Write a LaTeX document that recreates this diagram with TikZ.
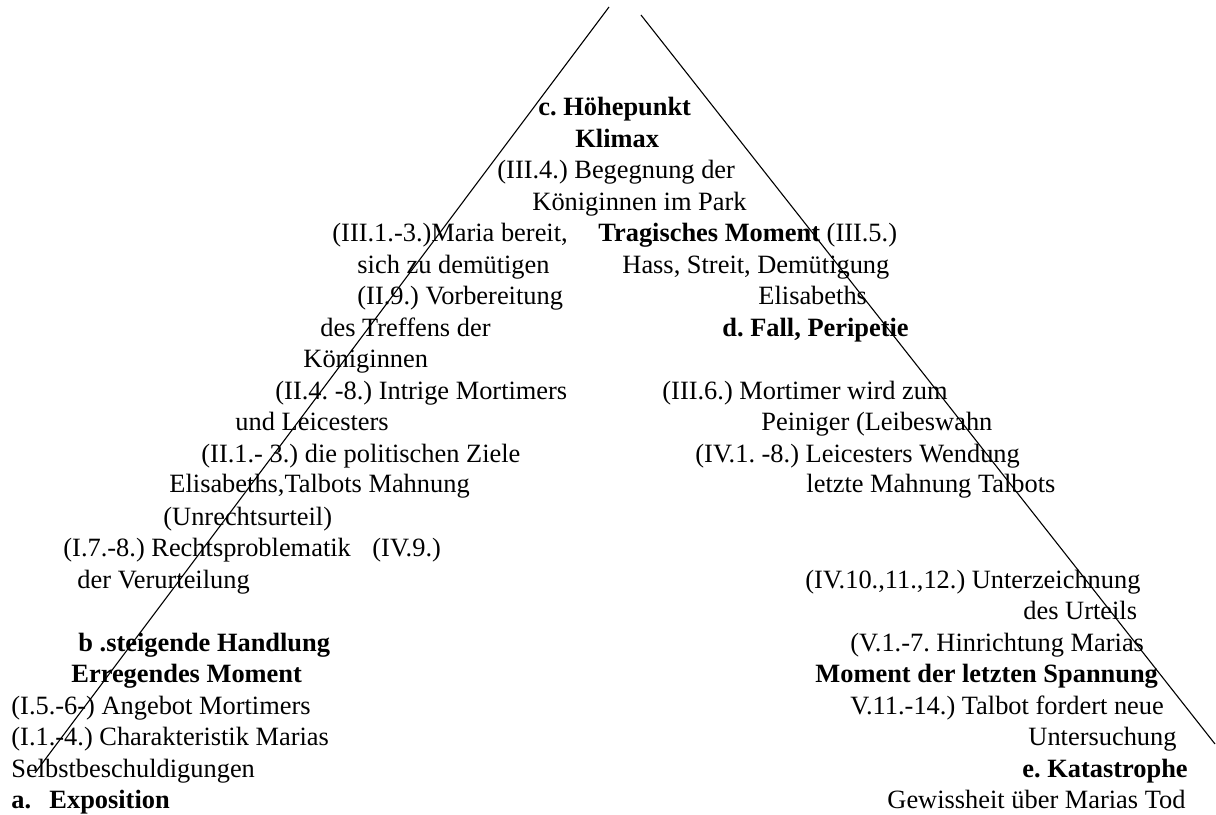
\documentclass[tikz,border=0pt]{standalone}
\usepackage{fontspec}
\setmainfont{Liberation Serif}
\begin{document}
\fontsize{12}{14}\selectfont\frenchspacing
\begin{tikzpicture}[
      x=0.4545pt, y=-0.4545pt,
      txt/.style={anchor=base west, inner sep=0pt},
      head/.style={txt, font=\bfseries},
      side/.style={line width=0.5pt},
   ]
   \useasboundingbox (0,0) rectangle (1216,815);

   % sides of the triangle
   \coordinate (topL) at (609,7);
   \coordinate (footL) at (35,773);
   \coordinate (topR) at (641,15);
   \coordinate (footR) at (1215,744);
   \draw[side] (topL) -- (footL);
   \draw[side] (topR) -- (footR);

   % c. Hoehepunkt
   \node[head] (hoehe) at (538,116) {c. Höhepunkt};
   \node[head] (klimax) at (575,147.5) {Klimax};
   \node[txt] (begegn) at (497,179) {(III.4.) Begegnung der};
   \node[txt] (park) at (532,210.5) {Königinnen im Park};

   % rising side
   \node[txt] (bereit) at (332,242) {(III.1.-3.)Maria bereit,};
   \node[txt] (demuet) at (357,273.5) {sich zu demütigen};
   \node[txt] (vorber) at (357,305) {(II.9.) Vorbereitung};
   \node[txt] (treffen) at (320,336.5) {des Treffens der};
   \node[txt] (koenig) at (303,368) {Königinnen};
   \node[txt] (intrige) at (275,399.5) {(II.4. -8.) Intrige Mortimers};
   \node[txt] (leic) at (235,431) {und Leicesters};
   \node[txt] (ziele) at (201,462.5) {(II.1.- 3.) die politischen Ziele};
   \node[txt] (talbot) at (169,493) {Elisabeths,Talbots Mahnung};
   \node[txt] (unrecht) at (163,525.5) {(Unrechtsurteil)};
   \node[txt] (recht) at (63,557) {(I.7.-8.) Rechtsproblematik};
   \node[txt] (vier9) at (372,557) {(IV.9.)};
   \node[txt] (verurt) at (77,588.5) {der Verurteilung};

   % b. steigende Handlung
   \node[head] (steig) at (78,651.5) {b .steigende Handlung};
   \node[head] (erreg) at (71,683) {Erregendes Moment};
   \node[txt] (angebot) at (11,714.5) {(I.5.-6-) Angebot Mortimers};
   \node[txt] (charak) at (11,746) {(I.1.-4.) Charakteristik Marias};
   \node[txt] (selbst) at (11,777.5) {Selbstbeschuldigungen};

   % a. Exposition
   \node[head] (expA) at (11,809) {a.};
   \node[head] (expo) at (49,809) {Exposition};

   % falling side
   \node[txt] (tragm) at (598,242) {\textbf{Tragisches Moment} (III.5.)};
   \node[txt] (hass) at (622,273.5) {Hass, Streit, Demütigung};
   \node[txt] (elis) at (758,305) {Elisabeths};
   \node[head] (fall) at (722,336.5) {d. Fall, Peripetie};
   \node[txt] (peinA) at (662,399.5) {(III.6.) Mortimer wird zum};
   \node[txt] (peinB) at (761,431) {Peiniger (Leibeswahn};
   \node[txt] (wend) at (695,462.5) {(IV.1. -8.) Leicesters Wendung};
   \node[txt] (mahn) at (806,493) {letzte Mahnung Talbots};
   \node[txt] (unterz) at (805,588.5) {(IV.10.,11.,12.) Unterzeichnung};
   \node[txt] (urteil) at (1023,620) {des Urteils};
   \node[txt] (hinr) at (850,651.5) {(V.1.-7. Hinrichtung Marias};
   \node[head] (spann) at (815,683) {Moment der letzten Spannung};
   \node[txt] (fordert) at (850,714.5) {V.11.-14.) Talbot fordert neue};
   \node[txt] (unters) at (1028,746) {Untersuchung};

   % e. Katastrophe
   \node[head] (kata) at (1022,777.5) {e. Katastrophe};
   \node[txt] (tod) at (887,809) {Gewissheit über Marias Tod};
\end{tikzpicture}
\end{document}
